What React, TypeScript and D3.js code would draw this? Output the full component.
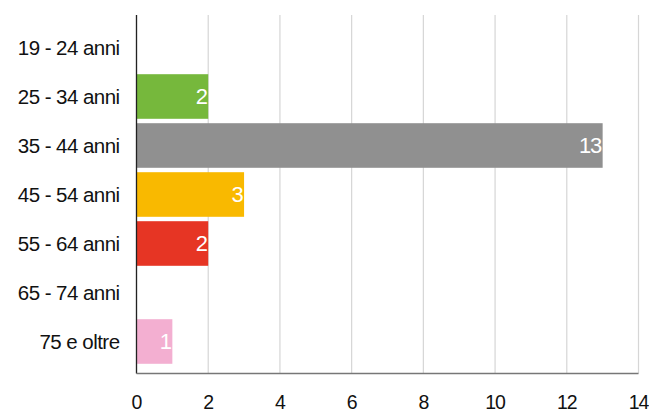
import React from "react";
import * as d3 from "d3";

const categories = ["19 - 24 anni", "25 - 34 anni", "35 - 44 anni", "45 - 54 anni", "55 - 64 anni", "65 - 74 anni", "75 e oltre"];
const values = [0, 2, 13, 3, 2, 0, 1];
const colors = ["#76b83c", "#76b83c", "#909090", "#f9b900", "#e63524", "#e63524", "#f3afd1"];
const ticks = [0, 2, 4, 6, 8, 10, 12, 14];

const W = 649;
const H = 409;
const FONT = "'Liberation Sans', Arial, sans-serif";

export default function App() {
  const x = d3.scaleLinear().domain([0, 14]).range([136.5, 638.5]);
  const y = d3.scaleBand<string>().domain(categories).range([23, 366]).paddingInner(0.09).paddingOuter(0.045);
  const yTop = 15;
  const yBot = 373.5;
  return (
    <svg width={W} height={H} style={{ position: "absolute", left: 0, top: 0 }} fontFamily={FONT}>
      <rect width={W} height={H} fill="#fff" />
      {ticks.map((t) => (
        <line key={"g" + t} x1={x(t)} x2={x(t)} y1={yTop} y2={yBot} stroke="#d6d6d6" strokeWidth={1.2} />
      ))}
      {categories.map((c, i) => {
        const v = values[i];
        const yy = y(c)!;
        const bw = y.bandwidth();
        return (
          <g key={c}>
            {v > 0 && <rect x={x(0)} y={yy} width={x(v) - x(0)} height={bw} fill={colors[i]} />}
            {v > 0 && (
              <text x={x(v) - 1.5} y={yy + bw / 2} dy="0.36em" textAnchor="end" fill="#fff" fontSize={22} letterSpacing={-1.2}>
                {v}
              </text>
            )}
            <text x={119.5} y={yy + bw / 2} dy="0.36em" textAnchor="end" fill="#111" fontSize={20.5} letterSpacing={-0.55}>
              {c}
            </text>
          </g>
        );
      })}
      <line x1={x(0)} x2={x(0)} y1={yTop} y2={yBot} stroke="#222" strokeWidth={1.3} />
      <line x1={x(0)} x2={x(14)} y1={yBot} y2={yBot} stroke="#777" strokeWidth={1.5} />
      {ticks.map((t) => (
        <text key={"t" + t} x={x(t)} y={408.5} textAnchor="middle" fill="#111" fontSize={19.5} letterSpacing={-1}>
          {t}
        </text>
      ))}
    </svg>
  );
}
